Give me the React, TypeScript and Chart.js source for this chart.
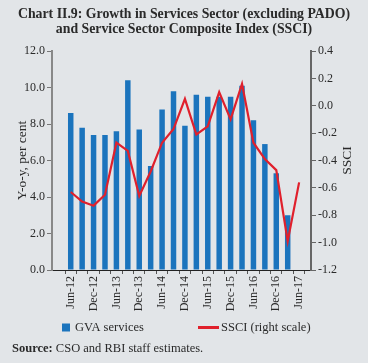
import React, { useEffect, useRef } from 'react';
import { Chart, registerables } from 'chart.js';

Chart.register(...registerables);

const titleLines = [
  'Chart II.9: Growth in Services Sector (excluding PADO)',
  'and Service Sector Composite Index (SSCI)',
];
const leftAxisTitle = 'Y-o-y, per cent';
const rightAxisTitle = 'SSCI';
const barLabel = 'GVA services';
const lineLabel = 'SSCI (right scale)';
const sourceBold = 'Source:';
const sourceText = ' CSO and RBI staff estimates.';

const categories = [
  'Jun-12', 'Sep-12', 'Dec-12', 'Mar-13', 'Jun-13', 'Sep-13', 'Dec-13', 'Mar-14',
  'Jun-14', 'Sep-14', 'Dec-14', 'Mar-15', 'Jun-15', 'Sep-15', 'Dec-15', 'Mar-16',
  'Jun-16', 'Sep-16', 'Dec-16', 'Mar-17', 'Jun-17',
];
const gvaServices: (number | null)[] = [
  8.6, 7.8, 7.4, 7.4, 7.6, 10.4, 7.7, 5.7, 8.8, 9.8, 7.9, 9.6, 9.5, 9.5, 9.5, 10.1,
  8.2, 6.9, 5.3, 3.0, null,
];
const ssci: number[] = [
  -0.63, -0.70, -0.73, -0.65, -0.27, -0.33, -0.66, -0.48, -0.27, -0.17, 0.05, -0.21,
  -0.15, 0.10, -0.10, 0.16, -0.27, -0.39, -0.47, -0.99, -0.56,
];

const BAR_COLOR = '#1b74bd';
const LINE_COLOR = '#e0202c';
const BG = '#e2e5e8';
const TEXT = '#2a2a2a';
const SERIF = '"Liberation Serif", "Times New Roman", serif';

const fmt = (v: number) => (Math.abs(v) < 1e-9 ? '0.0' : Number(v).toFixed(1));

const textPlugin = {
  id: 'customTexts',
  afterDraw(chart: any) {
    const ctx = chart.ctx as CanvasRenderingContext2D;
    const area = chart.chartArea;
    ctx.save();
    ctx.fillStyle = TEXT;
    // Title
    ctx.textAlign = 'center';
    ctx.textBaseline = 'middle';
    ctx.font = `bold 13.8px ${SERIF}`;
    ctx.fillText(titleLines[0], 184, 14);
    ctx.fillText(titleLines[1], 184, 29);
    // axis titles
    const midY = (area.top + area.bottom) / 2;
    ctx.font = `13.5px ${SERIF}`;
    ctx.save();
    ctx.translate(22, midY);
    ctx.rotate(-Math.PI / 2);
    ctx.fillText(leftAxisTitle, 0, 0);
    ctx.restore();
    ctx.save();
    ctx.translate(347, midY);
    ctx.rotate(-Math.PI / 2);
    ctx.fillText(rightAxisTitle, 0, 0);
    ctx.restore();
    // legend
    const ly = 327.5;
    ctx.fillStyle = BAR_COLOR;
    ctx.fillRect(62, ly - 4, 8, 8);
    ctx.strokeStyle = LINE_COLOR;
    ctx.lineWidth = 3;
    ctx.beginPath();
    ctx.moveTo(198, ly);
    ctx.lineTo(219, ly);
    ctx.stroke();
    ctx.fillStyle = TEXT;
    ctx.textAlign = 'left';
    ctx.font = `12.5px ${SERIF}`;
    ctx.fillText(barLabel, 75, ly);
    ctx.fillText(lineLabel, 221, ly);
    // source
    ctx.font = `bold 12.5px ${SERIF}`;
    ctx.fillText(sourceBold, 12, 349);
    const w = ctx.measureText(sourceBold).width;
    ctx.font = `12.5px ${SERIF}`;
    ctx.fillText(sourceText, 12 + w, 349);
    ctx.restore();
  },
};

export default function App() {
  const ref = useRef<HTMLCanvasElement | null>(null);

  useEffect(() => {
    if (!ref.current) return;
    const barData = categories.map((_, i) => ({ x: i, y: gvaServices[i] }));
    const lineData = categories.map((_, i) => ({ x: i, y: ssci[i] }));
    const tickFont = { family: SERIF, size: 12 };
    const chart = new Chart(ref.current, {
      type: 'bar',
      data: {
        datasets: [
          {
            type: 'line',
            label: lineLabel,
            data: lineData as any,
            yAxisID: 'y1',
            xAxisID: 'x',
            borderColor: LINE_COLOR,
            borderWidth: 2.2,
            pointRadius: 0,
            tension: 0,
            order: 0,
          } as any,
          {
            type: 'bar',
            label: barLabel,
            data: barData as any,
            yAxisID: 'y',
            xAxisID: 'x',
            backgroundColor: BAR_COLOR,
            categoryPercentage: 1,
            barPercentage: 0.48,
            order: 1,
          } as any,
        ],
      },
      options: {
        animation: false,
        responsive: false,
        devicePixelRatio: 1,
        layout: { padding: { left: 0, right: 0, top: 51, bottom: 45 } },
        plugins: {
          legend: { display: false },
          title: { display: false },
          tooltip: { enabled: false },
        },
        scales: {
          x: {
            type: 'linear',
            position: 'bottom',
            min: -1.1,
            max: 20.5,
            afterBuildTicks: (scale: any) => {
              scale.ticks = categories.map((_, i) => ({ value: i }));
            },
            afterFit: (scale: any) => {
              scale.height = 48;
            },
            ticks: {
              autoSkip: false,
              maxRotation: 90,
              minRotation: 90,
              padding: 2,
              color: TEXT,
              font: tickFont,
              callback: (v: any) => {
                const i = Math.round(Number(v));
                return i % 2 === 0 ? categories[i] : '';
              },
            },
            grid: {
              display: true,
              drawOnChartArea: false,
              offset: true,
              tickLength: 4,
              color: '#555',
            },
            border: { display: true, color: '#222', width: 1 },
          },
          y: {
            type: 'linear',
            position: 'left',
            min: 0,
            max: 12,
            afterFit: (scale: any) => {
              scale.width = 52;
            },
            ticks: {
              stepSize: 2,
              color: TEXT,
              font: tickFont,
              padding: 2,
              callback: (v: any) => fmt(Number(v)),
            },
            grid: { display: true, drawOnChartArea: false, tickLength: 5, color: '#777' },
            border: { display: true, color: '#888', width: 2 },
          },
          y1: {
            type: 'linear',
            position: 'right',
            min: -1.2,
            max: 0.4,
            afterFit: (scale: any) => {
              scale.width = 57;
            },
            ticks: {
              stepSize: 0.2,
              color: TEXT,
              font: tickFont,
              padding: 2,
              callback: (v: any) => fmt(Number(v)),
            },
            grid: { display: true, drawOnChartArea: false, tickLength: 5, color: '#666' },
            border: { display: true, color: '#666', width: 2 },
          },
        },
      } as any,
      plugins: [textPlugin],
    });
    return () => chart.destroy();
  }, []);

  return (
    <div
      style={{
        position: 'fixed',
        left: 0,
        top: 0,
        width: 368,
        height: 363,
        background: BG,
        overflow: 'hidden',
      }}
    >
      <canvas ref={ref} width={368} height={363} style={{ display: 'block', width: 368, height: 363 }} />
    </div>
  );
}
